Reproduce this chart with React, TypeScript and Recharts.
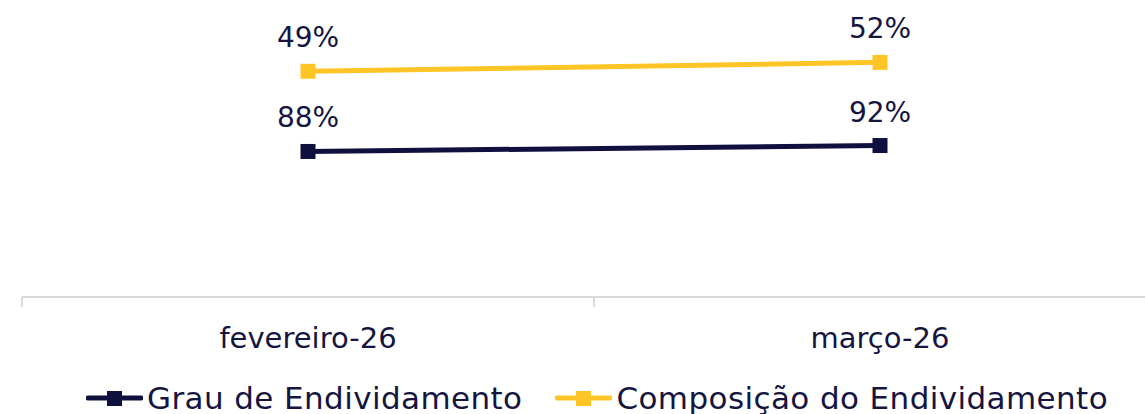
import React from 'react';
import { LineChart, Line, XAxis, YAxis, Legend, LabelList } from 'recharts';

// ─── dados ────────────────────────────────────────────────────────────────────

const MESES = ['fevereiro-26', 'março-26'];
const GRAU = [88, 92];
const COMPOSICAO = [49, 52];
const SERIES = ['Grau de Endividamento', 'Composição do Endividamento'];

const NAVY = '#10103e';
const AMARELO = '#ffc526';
const TEXTO = '#15153f';
const EIXO = '#d9d9d9';
const FONTE = '"DejaVu Sans", sans-serif';

const data = MESES.map((mes, i) => ({
  mes,
  grau: GRAU[i],
  composicao: COMPOSICAO[i],
}));

// ─── pedaços ──────────────────────────────────────────────────────────────────

function SquareDot(color: string) {
  return (p: any) => (
    <rect
      key={`dot-${p.index}`}
      x={p.cx - 7.5}
      y={p.cy - 7.5}
      width={15}
      height={15}
      fill={color}
    />
  );
}

function PctLabel(p: any) {
  return (
    <text
      x={p.x}
      y={p.y - 24}
      textAnchor="middle"
      fill={TEXTO}
      fontSize={28}
      fontFamily={FONTE}
    >
      {`${p.value}%`}
    </text>
  );
}

function MesTick(p: any) {
  const { x, y, payload, index, visibleTicksCount } = p;
  const half = payload.offset ?? 0;
  const isLast = index === visibleTicksCount - 1;
  return (
    <g>
      <line x1={x - half} y1={y} x2={x - half} y2={y + 10} stroke={EIXO} strokeWidth={2} />
      {isLast && (
        <line x1={x + half} y1={y} x2={x + half} y2={y + 10} stroke={EIXO} strokeWidth={2} />
      )}
      <text x={x} y={y + 51} textAnchor="middle" fill={TEXTO} fontSize={29} fontFamily={FONTE}>
        {payload.value}
      </text>
    </g>
  );
}

function Legenda({ payload }: any) {
  const items = [...(payload ?? [])].sort(
    (a: any, b: any) => SERIES.indexOf(a.value) - SERIES.indexOf(b.value),
  );
  return (
    <div
      style={{
        display: 'flex',
        justifyContent: 'center',
        gap: 33,
        fontFamily: FONTE,
        fontSize: 31,
        letterSpacing: 0.4,
        color: TEXTO,
        lineHeight: '36px',
        whiteSpace: 'nowrap',
      }}
    >
      {items.map((item: any) => (
        <div key={item.value} style={{ display: 'flex', alignItems: 'center' }}>
          <svg width={57} height={16}>
            <line x1={2} y1={8} x2={55} y2={8} stroke={item.color} strokeWidth={5} strokeLinecap="round" />
            <rect x={21} y={1} width={15} height={15} fill={item.color} />
          </svg>
          <span style={{ marginLeft: 4 }}>{item.value}</span>
        </div>
      ))}
    </div>
  );
}

// ─── App ──────────────────────────────────────────────────────────────────────

export default function App() {
  return (
    <div
      style={{
        position: 'fixed',
        left: 0,
        top: 0,
        width: 1145,
        height: 414,
        overflow: 'hidden',
        background: '#fff',
      }}
    >
      <LineChart
        width={1180}
        height={414}
        data={data}
        margin={{ top: 0, right: 14, bottom: 0, left: 22 }}
      >
        <XAxis
          dataKey="mes"
          scale="band"
          axisLine={{ stroke: EIXO, strokeWidth: 2 }}
          tickLine={false}
          tickSize={0}
          tickMargin={0}
          height={81}
          tick={<MesTick />}
          interval={0}
        />
        <YAxis yAxisId="grau" hide domain={[-10, 190]} allowDataOverflow />
        <YAxis yAxisId="comp" hide domain={[-27, 73]} allowDataOverflow />
        <Legend
          verticalAlign="bottom"
          content={<Legenda />}
          wrapperStyle={{ left: 0, width: 1194, top: 380, bottom: 'auto', height: 36 }}
        />
        <Line
          yAxisId="grau"
          dataKey="grau"
          name={SERIES[0]}
          stroke={NAVY}
          strokeWidth={5}
          dot={SquareDot(NAVY)}
          activeDot={false}
          isAnimationActive={false}
        >
          <LabelList dataKey="grau" content={<PctLabel />} />
        </Line>
        <Line
          yAxisId="comp"
          dataKey="composicao"
          name={SERIES[1]}
          stroke={AMARELO}
          strokeWidth={5}
          dot={SquareDot(AMARELO)}
          activeDot={false}
          isAnimationActive={false}
        >
          <LabelList dataKey="composicao" content={<PctLabel />} />
        </Line>
      </LineChart>
    </div>
  );
}
